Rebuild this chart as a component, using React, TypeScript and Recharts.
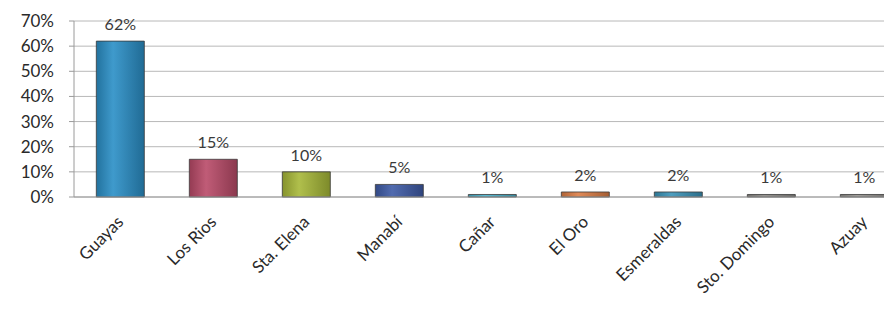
import React from 'react';
import { BarChart, Bar, XAxis, YAxis, CartesianGrid, LabelList, Cell } from 'recharts';

const provinces = ['Guayas', 'Los Rios', 'Sta. Elena', 'Manabí', 'Cañar', 'El Oro', 'Esmeraldas', 'Sto. Domingo', 'Azuay'];
const shares = [0.62, 0.15, 0.1, 0.05, 0.01, 0.02, 0.02, 0.01, 0.01];
const barColors = ['#2a8fc6', '#b94a68', '#a7b838', '#3e5ba6', '#48b2cc', '#dc7d45', '#3a93b8', '#8c8a86', '#95938f'];
const yTicks = [0, 0.1, 0.2, 0.3, 0.4, 0.5, 0.6, 0.7];

const data = provinces.map((name, i) => ({ name, share: shares[i] }));

const FONT = 'Lato, "Open Sans", sans-serif';
const pct = (v: number) => `${Math.round(v * 100)}%`;

const shade = (hex: string, f: number) => {
  const n = parseInt(hex.slice(1), 16);
  const c = [(n >> 16) & 255, (n >> 8) & 255, n & 255].map((v) =>
    Math.max(0, Math.min(255, Math.round(f > 0 ? v + (255 - v) * f : v * (1 + f))))
  );
  return `rgb(${c.join(',')})`;
};

const CategoryTick = (props: any) => {
  const { x, y, payload } = props;
  return (
    <g transform={`translate(${x + 4},${y + 18})`}>
      <text transform="rotate(-45)" textAnchor="end" fontSize={17} fill="#2a2a2a" fontFamily={FONT}>
        {payload.value}
      </text>
    </g>
  );
};

export default function App() {
  return (
    <div style={{ position: 'absolute', left: 0, top: 0, width: 884, height: 325, overflow: 'hidden', background: '#fff' }}>
      <BarChart
        width={920}
        height={325}
        data={data}
        margin={{ top: 21, right: 9, left: 0, bottom: 8 }}
        barCategoryGap="24%"
      >
        <defs>
          {barColors.map((c, i) => (
            <linearGradient key={i} id={`bar${i}`} x1="0" y1="0" x2="1" y2="0">
              <stop offset="0%" stopColor={shade(c, -0.2)} />
              <stop offset="35%" stopColor={shade(c, 0.1)} />
              <stop offset="100%" stopColor={shade(c, -0.25)} />
            </linearGradient>
          ))}
        </defs>
        <CartesianGrid vertical={false} stroke="#b8b8b8" strokeWidth={1} />
        <XAxis
          dataKey="name"
          interval={0}
          height={120}
          tick={<CategoryTick />}
          axisLine={{ stroke: '#9a9a9a' }}
          tickLine={false}
        />
        <YAxis
          width={74}
          domain={[0, 0.7]}
          ticks={yTicks}
          interval={0}
          tickFormatter={pct}
          tickSize={5}
          tickMargin={15}
          axisLine={{ stroke: '#9a9a9a' }}
          tickLine={{ stroke: '#9a9a9a' }}
          tick={{ fontSize: 17, fill: '#2a2a2a', fontFamily: FONT }}
        />
        <Bar dataKey="share" isAnimationActive={false} stroke="#3a3a3a" strokeWidth={0.8}>
          {data.map((_, i) => (
            <Cell key={i} fill={`url(#bar${i})`} />
          ))}
          <LabelList
            dataKey="share"
            position="top"
            offset={11}
            formatter={(v: any) => pct(Number(v))}
            style={{ fontSize: 16, fill: '#3a3a3a', fontFamily: FONT }}
          />
        </Bar>
      </BarChart>
    </div>
  );
}
